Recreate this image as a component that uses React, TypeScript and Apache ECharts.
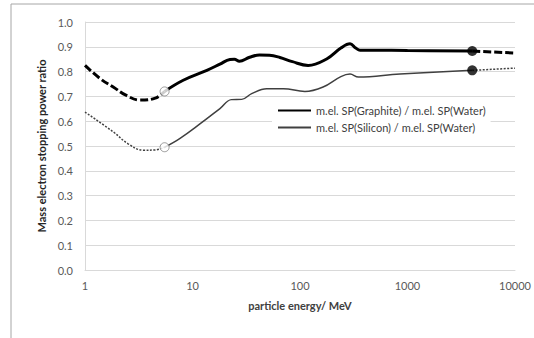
import React, { useEffect, useRef } from "react";
import * as echarts from "echarts";

// Energies (MeV) and mass electron stopping power ratios
const graphiteLowE = [1, 1.4, 1.83, 2.4, 3.25, 4.5, 5.5];
const graphiteLowV = [0.825, 0.77, 0.738, 0.705, 0.685, 0.693, 0.72];
const graphiteMidE = [5.5, 8.2, 13.6, 18, 22.3, 24.5, 27.3, 34, 42, 52, 65, 85, 119, 177, 240, 292, 330, 362, 500, 1000, 4000];
const graphiteMidV = [0.72, 0.765, 0.805, 0.83, 0.849, 0.85, 0.842, 0.858, 0.867, 0.866, 0.857, 0.84, 0.825, 0.851, 0.895, 0.912, 0.895, 0.886, 0.886, 0.885, 0.883];
const graphiteHighE = [4000, 10000];
const graphiteHighV = [0.883, 0.875];

const siliconLowE = [1, 1.83, 2.5, 3.48, 4.5, 5.5];
const siliconLowV = [0.637, 0.557, 0.51, 0.483, 0.484, 0.495];
const siliconMidE = [5.5, 7.6, 11.8, 18, 23, 28.7, 35.5, 49, 70, 111, 164, 240, 292, 350, 851, 4000];
const siliconMidV = [0.495, 0.53, 0.59, 0.651, 0.687, 0.688, 0.711, 0.731, 0.731, 0.72, 0.738, 0.78, 0.79, 0.778, 0.79, 0.805];
const siliconHighE = [4000, 10000];
const siliconHighV = [0.805, 0.814];

const openMarkerE = [5.5, 5.5];
const openMarkerV = [0.72, 0.495];
const filledMarkerE = [4000, 4000];
const filledMarkerV = [0.883, 0.805];

const xTicks = [1, 10, 100, 1000, 10000];
const seriesNames = [
  "m.el. SP(Graphite) / m.el. SP(Water)",
  "m.el. SP(Silicon) / m.el. SP(Water)",
];

const zip = (xs: number[], ys: number[]) => xs.map((x, i) => [x, ys[i]]);

const FONT = "Lato";

export default function App() {
  const ref = useRef<HTMLDivElement>(null);
  useEffect(() => {
    document.body.style.margin = "0";
    const chart = echarts.init(ref.current!, null, { renderer: "svg" });
    const gCol = "#000000";
    const sCol = "#404040";
    chart.setOption({
      animation: false,
      backgroundColor: "#ffffff",
      textStyle: { fontFamily: FONT },
      graphic: [
        {
          type: "rect",
          shape: { x: 11, y: 4, width: 600, height: 400 },
          style: { fill: "none", stroke: "#a6a6a6", lineWidth: 1 },
          silent: true,
        },
      ],
      grid: { left: 85, right: 19, top: 22, bottom: 68 },
      legend: {
        orient: "vertical",
        left: 272,
        top: 103,
        data: seriesNames,
        itemWidth: 33,
        itemHeight: 10,
        itemGap: 6,
        padding: [2, 5, 2, 5],
        backgroundColor: "#ffffff",
        itemStyle: { opacity: 0 },
        textStyle: { fontFamily: FONT, fontSize: 11, color: "#404040" },
      },
      xAxis: {
        type: "log",
        logBase: 10,
        min: 1,
        max: 10000,
        name: "particle energy/ MeV",
        nameLocation: "middle",
        nameGap: 30,
        nameTextStyle: { fontFamily: FONT, fontWeight: "bold", fontSize: 11, color: "#404040" },
        axisLine: { show: true, lineStyle: { color: "#d9d9d9", width: 1 } },
        axisTick: { show: false },
        splitLine: { show: false },
        minorSplitLine: { show: false },
        axisLabel: {
          margin: 10,
          fontSize: 11,
          color: "#595959",
          fontFamily: FONT,
          formatter: (v: number) => {
            const r = Math.round(v);
            return xTicks.includes(r) ? String(r) : "";
          },
        },
      },
      yAxis: {
        type: "value",
        min: 0,
        max: 1,
        interval: 0.1,
        name: "Mass electron stopping power ratio",
        nameLocation: "middle",
        nameGap: 23,
        nameTextStyle: { fontFamily: FONT, fontWeight: "bold", fontSize: 11, color: "#262626" },
        axisLine: { show: true, lineStyle: { color: "#d9d9d9", width: 1 } },
        axisTick: { show: false },
        splitLine: { show: true, lineStyle: { color: "#d9d9d9", width: 1 } },
        axisLabel: {
          margin: 12,
          fontSize: 11,
          color: "#595959",
          fontFamily: FONT,
          formatter: (v: number) => v.toFixed(1),
        },
      },
      series: [
        {
          name: seriesNames[0],
          type: "line",
          smooth: 0.4,
          symbol: "none",
          data: zip(graphiteMidE, graphiteMidV),
          lineStyle: { color: gCol, width: 3 },
          itemStyle: { color: gCol },
          z: 3,
        },
        {
          name: seriesNames[1],
          type: "line",
          smooth: 0.4,
          symbol: "none",
          data: zip(siliconMidE, siliconMidV),
          lineStyle: { color: sCol, width: 1.5 },
          itemStyle: { color: sCol },
          z: 3,
        },
        {
          name: "g-low",
          type: "line",
          smooth: 0.4,
          symbol: "none",
          data: zip(graphiteLowE, graphiteLowV),
          lineStyle: { color: gCol, width: 3, type: [8, 3] },
          z: 2,
        },
        {
          name: "g-high",
          type: "line",
          symbol: "none",
          data: zip(graphiteHighE, graphiteHighV),
          lineStyle: { color: gCol, width: 3, type: [8, 3] },
          z: 2,
        },
        {
          name: "s-low",
          type: "line",
          smooth: 0.4,
          symbol: "none",
          data: zip(siliconLowE, siliconLowV),
          lineStyle: { color: sCol, width: 1.5, type: [2, 1.5] },
          z: 2,
        },
        {
          name: "s-high",
          type: "line",
          symbol: "none",
          data: zip(siliconHighE, siliconHighV),
          lineStyle: { color: sCol, width: 1.5, type: [2, 1.5] },
          z: 2,
        },
        {
          name: "open",
          type: "scatter",
          symbol: "circle",
          symbolSize: 9,
          data: zip(openMarkerE, openMarkerV),
          itemStyle: { color: "#ffffff", borderColor: "#7f7f7f", borderWidth: 1 },
          z: 5,
        },
        {
          name: "filled",
          type: "scatter",
          symbol: "circle",
          symbolSize: 10,
          data: zip(filledMarkerE, filledMarkerV),
          itemStyle: { color: "#000000" },
          z: 5,
        },
      ],
    });
    return () => chart.dispose();
  }, []);
  return <div ref={ref} style={{ width: 534, height: 338 }} />;
}
